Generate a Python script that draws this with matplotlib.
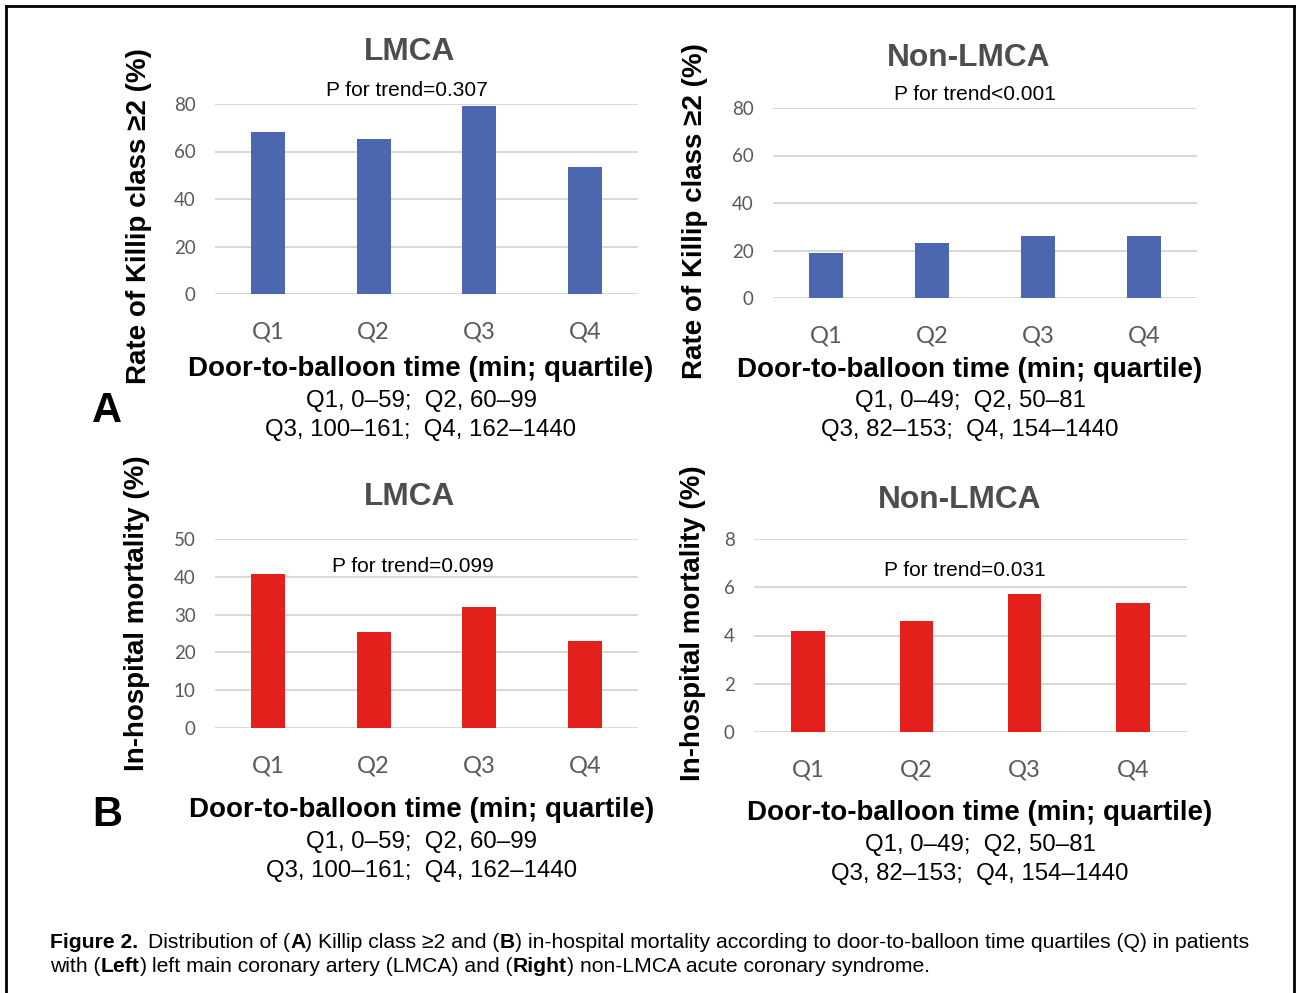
import matplotlib
matplotlib.use("Agg")
import matplotlib.pyplot as plt
from matplotlib import font_manager
from matplotlib.lines import Line2D

# data
quartiles = ["Q1", "Q2", "Q3", "Q4"]
killip_lmca = [68.2, 65.3, 79.0, 53.4]
killip_non_lmca = [18.9, 23.2, 26.0, 26.0]
mort_lmca = [40.7, 25.5, 32.1, 23.0]
mort_non_lmca = [4.2, 4.6, 5.74, 5.33]

p_texts = ["P for trend=0.307", "P for trend<0.001",
           "P for trend=0.099", "P for trend=0.031"]
ranges_lmca = ["Q1, 0\u201359;  Q2, 60\u201399", "Q3, 100\u2013161;  Q4, 162\u20131440"]
ranges_non = ["Q1, 0\u201349;  Q2, 50\u201381", "Q3, 82\u2013153;  Q4, 154\u20131440"]

W, H = 1297, 993
BLUE = "#4a67af"
RED = "#e3201b"
GRID = "#d4d4d4"
TICK = "#595959"

names = {f.name for f in font_manager.fontManager.ttflist}
tickfont = "Lato" if "Lato" in names else "DejaVu Sans"
plt.rcParams["font.family"] = ["Liberation Sans", "DejaVu Sans"]

fig = plt.figure(figsize=(W / 100, H / 100), dpi=100)


def fx(x):
    return x / W


def fy(y):
    return 1 - y / H


def panel(box, vals, color, ymax, step, bw):
    x0, y0, x1, y1 = box
    ax = fig.add_axes([fx(x0), fy(y1), fx(x1) - fx(x0), fy(y0) - fy(y1)])
    ax.bar(range(len(vals)), vals, width=bw, color=color, zorder=3)
    ax.set_xlim(-0.5, len(vals) - 0.5)
    ax.set_ylim(0, ymax)
    ax.set_yticks(range(0, ymax + 1, step))
    ax.set_xticks(range(len(vals)))
    ax.set_xticklabels(quartiles, fontsize=17, color=TICK, family=tickfont)
    for lab in ax.get_yticklabels():
        lab.set_fontsize(13.5)
        lab.set_color(TICK)
        lab.set_family(tickfont)
    ax.tick_params(axis="x", length=0, pad=20)
    ax.tick_params(axis="y", length=0, pad=14)
    ax.grid(axis="y", color=GRID, linewidth=1.3, zorder=0)
    for s in ax.spines.values():
        s.set_visible(False)
    ax.set_facecolor("none")
    return ax


panel((215, 104, 638, 294), killip_lmca, BLUE, 80, 20, 0.32)
panel((773, 108, 1197, 298), killip_non_lmca, BLUE, 80, 20, 0.32)
panel((215, 539, 638, 728), mort_lmca, RED, 50, 10, 0.32)
panel((754, 539, 1187, 732), mort_non_lmca, RED, 8, 2, 0.31)


def txt(x, y, s, **kw):
    kw.setdefault("ha", "center")
    kw.setdefault("va", "center")
    return fig.text(fx(x), fy(y), s, **kw)


# titles
title_kw = dict(fontsize=22.8, fontweight="bold", color="#4d4d4d")
txt(410, 52, "LMCA", **title_kw)
txt(969, 58, "Non-LMCA", **title_kw)
txt(410, 497, "LMCA", **title_kw)
txt(960, 500, "Non-LMCA", **title_kw)

# p values
p_kw = dict(fontsize=15)
txt(407, 91, p_texts[0], **p_kw)
txt(975, 94, p_texts[1], **p_kw)
txt(413, 566, p_texts[2], **p_kw)
txt(965, 571, p_texts[3], **p_kw)

# y labels
yl_kw = dict(fontsize=20, fontweight="bold", rotation=90)
txt(139, 216, "Rate of Killip class \u22652 (%)", **yl_kw)
txt(695, 211, "Rate of Killip class \u22652 (%)", **yl_kw)
txt(137, 613, "In-hospital mortality (%)", **yl_kw)
txt(693, 623, "In-hospital mortality (%)", **yl_kw)

# x labels and quartile ranges
xl_kw = dict(fontsize=20, fontweight="bold")
r_kw = dict(fontsize=17.3)
for (cx, ly, r1, r2), rng in zip(
        [(421, 369, 401, 430), (970, 370, 401, 430),
         (422, 810, 842, 871), (980, 813, 845, 874)],
        [ranges_lmca, ranges_non, ranges_lmca, ranges_non]):
    txt(cx, ly, "Door-to-balloon time (min; quartile)", **xl_kw)
    txt(cx, r1, rng[0], **r_kw)
    txt(cx, r2, rng[1], **r_kw)

# panel letters
txt(107, 411, "A", fontsize=30, fontweight="bold")
txt(107, 815, "B", fontsize=30, fontweight="bold")

# caption, laid out piece by piece so the bold words sit inline
renderer = fig.canvas.get_renderer()
cap_size = 15.2

probe = fig.text(0, 0, "x x", fontsize=cap_size)
probe2 = fig.text(0, 0, "xx", fontsize=cap_size)
space = probe.get_window_extent(renderer).width - probe2.get_window_extent(renderer).width
probe.remove()
probe2.remove()


def run(x, y, pieces):
    for s, bold in pieces:
        if s == " ":
            x += space
            continue
        t = fig.text(fx(x), fy(y), s, ha="left", va="center", fontsize=cap_size,
                     fontweight="bold" if bold else "normal")
        x += t.get_window_extent(renderer).width
    return x


txt(50, 942, "Figure 2.", ha="left", fontsize=cap_size, fontweight="bold")
run(148, 942, [("Distribution of (", False), ("A", True), (")", False), (" ", False),
               ("Killip class \u22652 and (", False), ("B", True), (")", False),
               (" ", False),
               ("in-hospital mortality according to door-to-balloon time "
                "quartiles (Q) in patients", False)])
run(50, 966, [("with (", False), ("Left", True), (")", False), (" ", False),
              ("left main coronary artery (LMCA) and (", False), ("Right", True),
              (")", False), (" ", False), ("non-LMCA acute coronary syndrome.", False)])

# frame
for xs, ys in [((6, 6), (6, H)), ((1294, 1294), (6, H)), ((6, 1294), (6, 6))]:
    fig.add_artist(Line2D([fx(v) for v in xs], [fy(v) for v in ys],
                          color="black", linewidth=2, transform=fig.transFigure))

fig.savefig("out.png", dpi=100)
